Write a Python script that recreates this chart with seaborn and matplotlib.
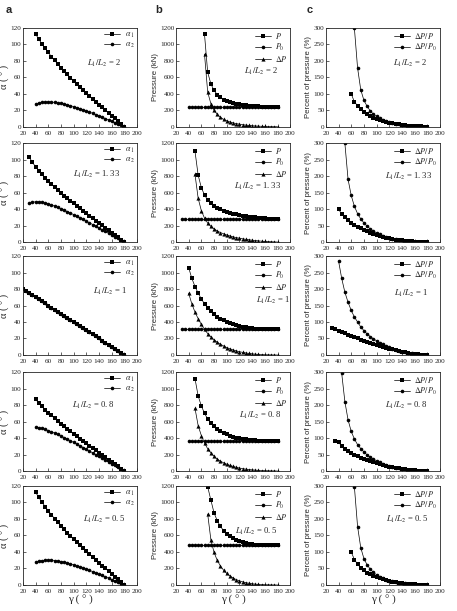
import matplotlib
matplotlib.use("Agg")
import matplotlib.pyplot as plt
import seaborn as sns

# angle grid used by all curves (degrees)
GAMMA = [20, 25, 30, 35, 40, 45, 50, 55, 60, 65, 70, 75, 80, 85, 90, 95, 100,
         105, 110, 115, 120, 125, 130, 135, 140, 145, 150, 155, 160, 165, 170,
         175, 180]

RATIO_LABELS = ["2", "1. 33", "1", "0. 8", "0. 5"]

# ---- column a: alpha angles ----
a1_r1 = [112.5, 106.3, 100.6, 95.1, 90.0, 85.1, 80.5, 76.0, 71.7, 67.5, 63.4, 59.5, 55.6, 51.8,
         48.1, 44.5, 40.9, 37.3, 33.8, 30.4, 26.9, 23.5, 20.1, 16.7, 13.4, 10.0, 6.7, 3.3, 0]
a2_r1 = [27.5, 28.7, 29.4, 29.9, 30.0, 29.9, 29.5, 29.0, 28.3, 27.5, 26.6, 25.5, 24.4, 23.2,
         21.9, 20.5, 19.1, 17.7, 16.2, 14.6, 13.1, 11.5, 9.9, 8.3, 6.6, 5.0, 3.3, 1.7, 0]
a1_r2 = [102.9, 96.7, 91.3, 86.4, 81.9, 77.7, 73.8, 70.0, 66.4, 63.0, 59.6, 56.3, 53.1, 49.9, 46.8,
         43.7, 40.7, 37.7, 34.7, 31.7, 28.8, 25.9, 23.0, 20.1, 17.2, 14.3, 11.4, 8.6, 5.7, 2.9, 0]
a2_r2 = [47.1, 48.3, 48.7, 48.6, 48.1, 47.3, 46.2, 45.0, 43.6, 42.0, 40.4, 38.7, 36.9, 35.1, 33.2,
         31.3, 29.3, 27.3, 25.3, 23.3, 21.2, 19.1, 17.0, 14.9, 12.8, 10.7, 8.6, 6.4, 4.3, 2.1, 0]
a1_r3 = [80, 77.5, 75, 72.5, 70, 67.5, 65, 62.5, 60, 57.5, 55, 52.5, 50, 47.5, 45, 42.5, 40,
         37.5, 35, 32.5, 30, 27.5, 25, 22.5, 20, 17.5, 15, 12.5, 10, 7.5, 5, 2.5, 0]
a2_r3 = [80, 77.5, 75, 72.5, 70, 67.5, 65, 62.5, 60, 57.5, 55, 52.5, 50, 47.5, 45, 42.5, 40,
         37.5, 35, 32.5, 30, 27.5, 25, 22.5, 20, 17.5, 15, 12.5, 10, 7.5, 5, 2.5, 0]
a1_r4 = [87.0, 82.5, 78.4, 74.5, 70.9, 67.4, 64.0, 60.7, 57.5, 54.4, 51.3, 48.3, 45.3, 42.4,
         39.4, 36.5, 33.7, 30.8, 28.0, 25.1, 22.3, 19.5, 16.7, 13.9, 11.1, 8.3, 5.6, 2.8, 0]
a2_r4 = [53.0, 52.5, 51.6, 50.5, 49.1, 47.6, 46.0, 44.3, 42.5, 40.6, 38.7, 36.7, 34.7, 32.6,
         30.6, 28.5, 26.3, 24.2, 22.0, 19.9, 17.7, 15.5, 13.3, 11.1, 8.9, 6.7, 4.4, 2.2, 0]
a1_r5 = [112.5, 106.3, 100.6, 95.1, 90.0, 85.1, 80.5, 76.0, 71.7, 67.5, 63.4, 59.5, 55.6, 51.8,
         48.1, 44.5, 40.9, 37.3, 33.8, 30.4, 26.9, 23.5, 20.1, 16.7, 13.4, 10.0, 6.7, 3.3, 0]
a2_r5 = [27.5, 28.7, 29.4, 29.9, 30.0, 29.9, 29.5, 29.0, 28.3, 27.5, 26.6, 25.5, 24.4, 23.2,
         21.9, 20.5, 19.1, 17.7, 16.2, 14.6, 13.1, 11.5, 9.9, 8.3, 6.6, 5.0, 3.3, 1.7, 0]
a_start = [40, 30, 20, 40, 40]

# ---- column b: pressures (kN) ----
p0_r1 = [240] * 29
p0_r2 = [280] * 31
p0_r3 = [310] * 31
p0_r4 = [360] * 29
p0_r5 = [480] * 29
p0_start = [40, 30, 30, 40, 40]

p_r1 = [1120, 660, 520, 440, 390, 355, 330, 312, 298, 287, 278, 271, 265, 260, 256, 252, 249,
        247, 245, 243, 242, 241, 240, 240]
p_r2 = [1100, 810, 660, 570, 510, 470, 440, 415, 395, 380, 366, 354, 343, 334, 326, 319, 313,
        307, 302, 298, 294, 290, 287, 285, 283, 281, 280]
p_r3 = [1060, 930, 830, 750, 680, 620, 570, 530, 495, 465, 440, 420, 400, 385, 372, 360, 350,
        342, 335, 329, 324, 320, 317, 315, 313, 312, 311, 310, 310]
p_r4 = [1120, 910, 790, 700, 630, 580, 540, 505, 480, 460, 443, 428, 416, 405, 396, 389, 383,
        378, 374, 371, 368, 366, 364, 363, 362, 361, 360]
p_r5 = [1190, 1030, 875, 780, 710, 660, 620, 590, 565, 545, 530, 518, 508, 501, 495, 490, 487,
        485, 483, 482, 481, 480, 480]

dp_r1 = [880, 420, 280, 200, 150, 115, 90, 72, 58, 47, 38, 31, 25, 20, 16, 12, 9, 7, 5, 3, 2, 1, 0, 0]
dp_r2 = [820, 530, 380, 290, 230, 190, 160, 135, 115, 100, 86, 74, 63, 54, 46, 39, 33, 27, 22,
         18, 14, 10, 7, 5, 3, 1, 0]
dp_r3 = [750, 620, 520, 440, 370, 310, 260, 220, 185, 155, 130, 110, 90, 75, 62, 50, 40, 32, 25,
         19, 14, 10, 7, 5, 3, 2, 1, 0, 0]
dp_r4 = [760, 550, 430, 340, 270, 220, 180, 145, 120, 100, 83, 68, 56, 45, 36, 29, 23, 18, 14,
         11, 8, 6, 4, 3, 2, 1, 0]
dp_r5 = [860, 550, 395, 300, 230, 180, 140, 110, 85, 65, 50, 38, 28, 21, 15, 10, 7, 5, 3, 2, 1, 0, 0]
p_start = [65, 50, 40, 50, 70]

# ---- column c: percent of pressure ----
rp_r1 = [100, 75, 64, 53, 44, 38, 32, 27.5, 23.7, 20, 16.7, 14.2, 11.9, 9.9, 8.3, 6.8, 5.5, 4.4,
         3.4, 2.5, 1.9, 1.3, 0.8, 0.4, 0]
rp_r2 = [100, 84, 74.9, 65.5, 58.5, 51.9, 46.2, 41.2, 36.7, 32.4, 28.6, 24.8, 21.6, 18.7, 16.0,
         13.4, 11.1, 9.1, 7.4, 5.9, 4.6, 3.5, 2.5, 1.8, 1.1, 0.6, 0.3, 0.1, 0]
rp_r3 = [82, 78, 74, 70, 66, 62, 58, 54, 50, 46.5, 43, 40, 37, 34, 31, 28, 25, 22, 19.5, 17,
         14.5, 12, 10, 8, 6, 4.5, 3, 2, 1, 0.5, 0]
rp_r4 = [91, 88, 74.8, 67.7, 60.8, 54.5, 49.2, 44.4, 40.5, 36.7, 32.9, 29.6, 26.5, 23.7, 20.6,
         18.0, 15.6, 13.4, 11.5, 9.5, 7.8, 6.4, 5.0, 3.8, 2.9, 2.1, 1.4, 0.8, 0.3, 0]
rp_r5 = [100, 77, 63, 52, 44, 37, 32, 27.5, 23.7, 20, 16.7, 14.2, 11.9, 9.9, 8.3, 6.8, 5.5, 4.4,
         3.4, 2.5, 1.9, 1.3, 0.8, 0.4, 0]
rp_start = [60, 40, 30, 35, 60]

rp0_r1 = [298, 178, 112, 80, 62, 48, 38, 31, 25, 20, 16.5, 13.5, 11, 9, 7.3, 5.8, 4.6, 3.5, 2.6,
          1.9, 1.3, 0.8, 0.4, 0]
rp0_r2 = [299, 190, 141, 108, 86, 70, 58, 48, 40, 33, 27.5, 23, 19, 15.5, 12.5, 10, 8, 6.3, 4.8,
          3.6, 2.6, 1.8, 1.1, 0.6, 0.3, 0.1, 0]
rp0_r3 = [285, 232, 190, 160, 135, 115, 100, 85, 74, 64, 56, 49, 43, 37, 32, 27, 23, 19.5, 16,
          13, 10.5, 8.3, 6.3, 4.6, 3.1, 2, 1, 0.5, 0]
rp0_r4 = [296, 210, 155, 120, 97, 80, 68, 58, 49, 42, 36, 31, 26, 22, 18.5, 15.5, 13, 10.5, 8.5,
          6.8, 5.3, 4, 3, 2.1, 1.4, 0.8, 0.3, 0]
rp0_r5 = [297, 177, 113, 80, 61, 48, 38, 31, 25, 20, 16.5, 13.5, 11, 9, 7.3, 5.8, 4.6, 3.5, 2.6,
          1.9, 1.3, 0.8, 0.4, 0]
rp0_start = [65, 50, 40, 45, 65]

A1 = [a1_r1, a1_r2, a1_r3, a1_r4, a1_r5]
A2 = [a2_r1, a2_r2, a2_r3, a2_r4, a2_r5]
P = [p_r1, p_r2, p_r3, p_r4, p_r5]
P0 = [p0_r1, p0_r2, p0_r3, p0_r4, p0_r5]
DP = [dp_r1, dp_r2, dp_r3, dp_r4, dp_r5]
RP = [rp_r1, rp_r2, rp_r3, rp_r4, rp_r5]
RP0 = [rp0_r1, rp0_r2, rp0_r3, rp0_r4, rp0_r5]

# where the L1/L2 note sits in each panel (axes fraction)
note_pos = [
    [(0.56, 0.64), (0.60, 0.56), (0.59, 0.64)],
    [(0.44, 0.68), (0.51, 0.56), (0.52, 0.66)],
    [(0.61, 0.64), (0.70, 0.55), (0.60, 0.62)],
    [(0.43, 0.66), (0.55, 0.56), (0.52, 0.66)],
    [(0.53, 0.66), (0.52, 0.54), (0.53, 0.66)],
]


def xs(start, vals):
    i = GAMMA.index(start)
    return GAMMA[i:i + len(vals)]


def draw(ax, start, vals, marker, label, ms=2.6):
    sns.lineplot(x=xs(start, vals), y=vals, marker=marker, color="black", linewidth=0.5,
                 markersize=ms, markeredgewidth=0, estimator=None, label=label, ax=ax)


sns.set_style("ticks")
plt.rcParams["font.family"] = ["Liberation Serif", "DejaVu Serif"]
plt.rcParams["mathtext.fontset"] = "stix"

fig = plt.figure(figsize=(4.57, 6.11), dpi=100)

lefts = [0.050, 0.385, 0.713]
bottoms = [0.7926, 0.6039, 0.4190, 0.2291, 0.0426]
w, h = 0.250, 0.162

ylims = [(0, 120, 20), (0, 1200, 200), (0, 300, 50)]
ylabels = [u"\u03b1 ( \u00b0 )", "Pressure (kN)", "Percent of pressure (%)"]

for r in range(5):
    axes = [fig.add_axes([lefts[c], bottoms[r], w, h]) for c in range(3)]
    ax_a, ax_b, ax_c = axes

    draw(ax_a, a_start[r], A1[r], "s", r"$\alpha_{\,1}$")
    draw(ax_a, a_start[r], A2[r], "o", r"$\alpha_{\,2}$")

    draw(ax_b, p_start[r], P[r], "s", r"$P$")
    draw(ax_b, p0_start[r], P0[r], "o", r"$P_0$")
    draw(ax_b, p_start[r], DP[r], "^", r"$\Delta P$", ms=3.0)

    draw(ax_c, rp_start[r], RP[r], "s", r"$\Delta P/\,P$")
    draw(ax_c, rp0_start[r], RP0[r], "o", r"$\Delta P/\,P_0$")

    for c, ax in enumerate(axes):
        lo, hi, step = ylims[c]
        ax.set_xlim(20, 200)
        ax.set_ylim(lo, hi)
        ax.set_xticks(range(20, 201, 20))
        ax.set_yticks(range(lo, hi + 1, step))
        ax.tick_params(direction="in", length=2, width=0.5, labelsize=5.2)
        ax.tick_params(axis="x", pad=2.8)
        ax.tick_params(axis="y", pad=1.2)
        for s in ax.spines.values():
            s.set_linewidth(0.6)
        ax.legend(loc="upper right", frameon=False, fontsize=5.8, handlelength=2.0,
                  handletextpad=0.5, labelspacing=0.12, borderaxespad=0.15, borderpad=0.2)
        nx, ny = note_pos[r][c]
        ax.text(nx, ny, r"$L_1/L_2$ = " + RATIO_LABELS[r], transform=ax.transAxes,
                fontsize=6.2, va="center", ha="left")
        if c == 0:
            ax.set_ylabel(ylabels[c], fontsize=7.5, labelpad=0)
        else:
            ax.set_ylabel(ylabels[c], fontsize=5.6, family="Liberation Sans", labelpad=1)
        if r == 4:
            ax.set_xlabel(u"\u03b3 ( \u00b0 )", fontsize=8, labelpad=1)
        else:
            ax.set_xlabel("")

for x, t in zip([0.012, 0.34, 0.672], ["a", "b", "c"]):
    fig.text(x, 0.983, t, fontsize=8, fontweight="bold", family="Liberation Sans", va="center")

fig.savefig("out.png", dpi=100)
